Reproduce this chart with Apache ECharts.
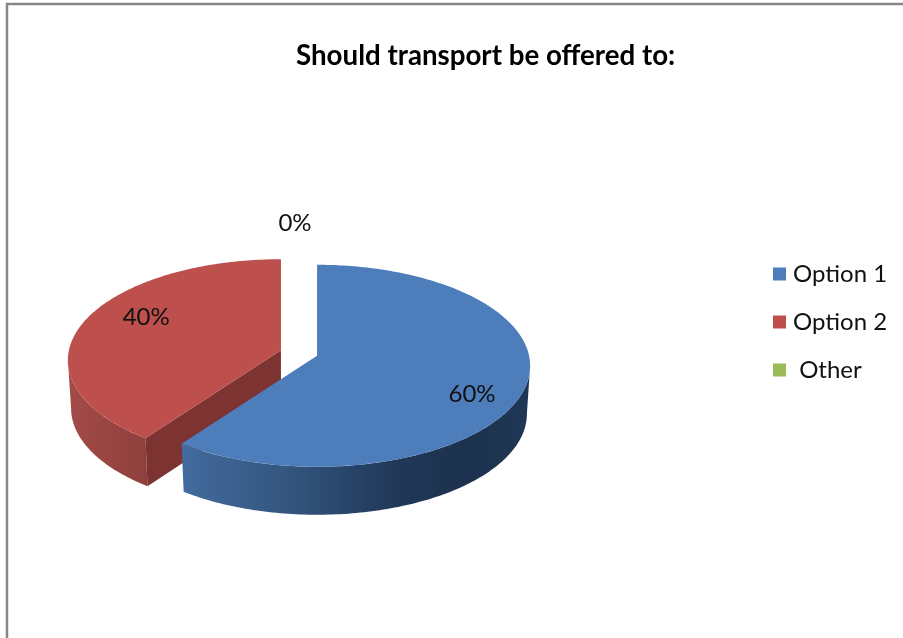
<!DOCTYPE html>
<html>
<head>
<meta charset="utf-8">
<style>html,body{margin:0;padding:0;background:#fff}#c{width:903px;height:638px}</style>
<script src="https://cdn.jsdelivr.net/npm/echarts@6/dist/echarts.min.js"></script>
</head>
<body>
<div id="c"></div>
<script>
var categories = ['Option 1', 'Option 2', 'Other'];
var percentValues = [60, 40, 0];
var chartTitle = 'Should transport be offered to:';

var sliceColors = ['#4d7ebb', '#bd4f4c', '#9bbb59'];
var wallStops = [
  [[0, '#436b9e'], [0.3, '#34567f'], [0.6, '#21395a'], [0.8, '#1c324e'], [1, '#1f3755']],
  [[0, '#a44b48'], [1, '#8e3f3c']],
  [[0, '#7a9440'], [1, '#5f7432']]
];
var cutColors = ['#1f3755', '#7d3331', '#5f7432'];
var labelNudge = [[-1, 15], [12, -10], [-4, -53]];
var sliceOrder = [6, 4, 5];

var GEO = {cx: 299, cy: 353, r: 212, flat: 100 / 212, persp: 0.099, explode: 19, depth: 48, shrink: 0.985};
var FONT = 'Lato';

var total = percentValues.reduce(function (a, b) { return a + b; }, 0);
var startFrac = [];
percentValues.reduce(function (acc, v, i) { startFrac[i] = acc / total; return acc + v; }, 0);

function project(apex, theta, f) {
  var s = 1 / (1 + GEO.persp * Math.cos(theta));
  return [apex[0] + GEO.r * f * Math.sin(theta) * s,
          apex[1] - GEO.r * f * GEO.flat * Math.cos(theta) * s];
}
function lower(apex, p) {
  return [apex[0] + (p[0] - apex[0]) * GEO.shrink, p[1] + GEO.depth];
}
function arc(apex, a, b) {
  var pts = [], n = Math.max(2, Math.ceil(Math.abs(b - a) / (Math.PI / 180)));
  for (var i = 0; i <= n; i++) pts.push(project(apex, a + (b - a) * i / n, 1));
  return pts;
}
function renderSlice(idx) {
  return function (params, api) {
    var value = api.value(0);
    var a = startFrac[idx] * 2 * Math.PI;
    var b = a + value / total * 2 * Math.PI;
    var mid = (a + b) / 2;
    var apex = [GEO.cx + GEO.explode * Math.sin(mid), GEO.cy - GEO.explode * GEO.flat * Math.cos(mid)];
    var children = [];
    if (value > 0) {
      var lim = Math.acos(-GEO.persp);
      var fa = Math.max(a, lim), fb = Math.min(b, 2 * Math.PI - lim);
      if (fb > fa) {
        var t = arc(apex, fa, fb);
        var wall = t.concat(t.map(function (p) { return lower(apex, p); }).reverse());
        children.push({type: 'polygon', shape: {points: wall}, style: {
          fill: {type: 'linear', x: 0, y: 0, x2: 1, y2: 0,
            colorStops: wallStops[idx].map(function (s) { return {offset: s[0], color: s[1]}; })}
        }});
      }
      var cut = function (th) {
        var p = project(apex, th, 1);
        children.push({type: 'polygon', shape: {points: [apex, p, lower(apex, p), lower(apex, apex)]},
          style: {fill: cutColors[idx]}});
      };
      if (a > Math.PI && a < 2 * Math.PI) cut(a);
      if (b > 0 && b < Math.PI) cut(b);
      var top = [apex].concat(arc(apex, a, b));
      children.push({type: 'polygon', shape: {points: top}, style: {fill: sliceColors[idx]}});
    }
    var lp = project(apex, mid, 0.75);
    children.push({type: 'text', z2: 10, style: {
      text: Math.round(value / total * 100) + '%',
      x: lp[0] + labelNudge[idx][0], y: lp[1] + labelNudge[idx][1],
      align: 'center', verticalAlign: 'middle',
      font: '24px ' + FONT, fill: '#111'
    }});
    return {type: 'group', children: children};
  };
}

var chart = echarts.init(document.getElementById('c'), null, {renderer: 'canvas'});
chart.setOption({
  animation: false,
  backgroundColor: '#fff',
  title: {text: chartTitle, left: 291, top: 37,
    textStyle: {fontFamily: FONT, fontWeight: 'bold', fontSize: 27.7, color: '#000'}},
  legend: {
    orient: 'vertical', left: 768, top: 257, itemWidth: 13, itemHeight: 13, itemGap: 24,
    icon: 'rect',
    data: categories,
    formatter: function (n) { return n === 'Other' ? ' ' + n : n; },
    textStyle: {fontFamily: FONT, fontSize: 24, color: '#111', padding: [0, 0, 0, 2]}
  },
  graphic: [{type: 'rect', silent: true, z: -1,
    shape: {x: 7, y: 4, width: 1200, height: 1200},
    style: {fill: 'none', stroke: '#868686', lineWidth: 2.5}}],
  series: categories.map(function (name, i) {
    return {
      type: 'custom', name: name, coordinateSystem: 'none',
      z: sliceOrder[i],
      itemStyle: {color: sliceColors[i]},
      renderItem: renderSlice(i),
      silent: true,
      data: [[percentValues[i]]]
    };
  })
});
</script>
</body>
</html>
